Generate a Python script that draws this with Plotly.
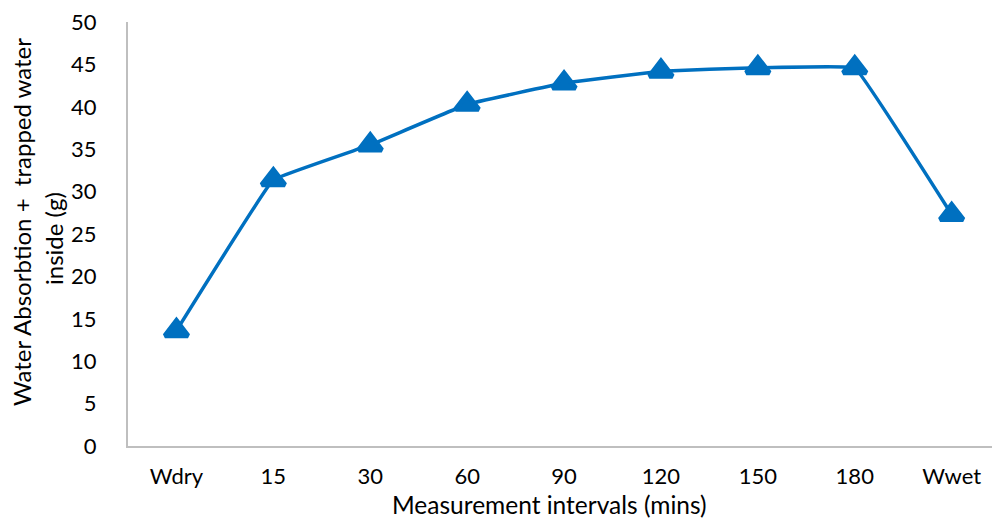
import plotly.graph_objects as go

categories = ["Wdry", "15", "30", "60", "90", "120", "150", "180", "Wwet"]
values = [13.6, 31.4, 35.5, 40.3, 42.8, 44.2, 44.6, 44.6, 27.3]
y_ticks = [0, 5, 10, 15, 20, 25, 30, 35, 40, 45, 50]
x_title = "Measurement intervals (mins)"
y_title_lines = ["Water Absorbtion +\u00a0 trapped water", "inside (g)"]

BLUE = "#0070C0"
FONT = "Lato"
L, T, B = 128, 22, 72
W, H = 992, 518
PW, PH = W - L, H - T - B

fig = go.Figure(
    go.Scatter(
        x=categories,
        y=values,
        mode="lines+markers",
        line=dict(color=BLUE, width=3.5, shape="spline", smoothing=0.15),
        marker=dict(symbol="triangle-up", size=20, color=BLUE,
                    line=dict(color=BLUE, width=5)),
        showlegend=False,
        cliponaxis=False,
    )
)

fig.update_layout(
    width=W,
    height=H,
    margin=dict(l=L, r=0, t=T, b=B),
    plot_bgcolor="white",
    paper_bgcolor="white",
    font=dict(family=FONT, size=22, color="black"),
    xaxis=dict(
        type="category",
        range=[-0.5, -0.5 + PW / 96.9],
        showgrid=False,
        showline=True,
        linecolor="#BFBFBF",
        linewidth=2,
        ticks="",
        ticklabelstandoff=10,
        tickfont=dict(size=22),
        zeroline=False,
    ),
    yaxis=dict(
        range=[0, 50],
        tickvals=y_ticks,
        showgrid=False,
        showline=True,
        linecolor="#BFBFBF",
        linewidth=2,
        ticks="",
        ticklabelstandoff=25,
        tickfont=dict(size=22),
        zeroline=False,
    ),
)

# axis titles
fig.add_annotation(text=x_title, xref="paper", yref="paper",
                   x=(549 - L) / PW, y=-(504 - (T + PH)) / PH,
                   xanchor="center", yanchor="middle", showarrow=False,
                   font=dict(size=24.5))
for txt, px, py in zip(y_title_lines, [21, 53], [222, 239]):
    fig.add_annotation(text=txt, xref="paper", yref="paper",
                       x=(px - L) / PW, y=((T + PH) - py) / PH,
                       xanchor="center", yanchor="middle", showarrow=False,
                       textangle=-90, font=dict(size=24))

fig.write_html("out.html")
